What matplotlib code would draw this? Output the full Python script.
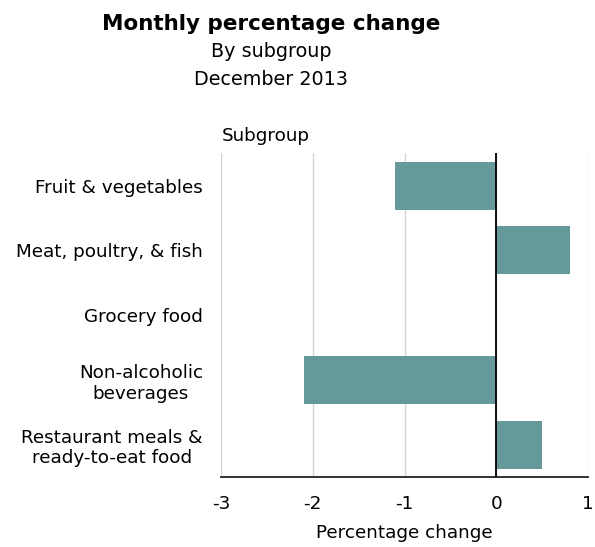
import matplotlib
matplotlib.use("Agg")
import matplotlib.pyplot as plt

plt.rcParams['font.family'] = ['DejaVu Sans']

# data
subgroups = ["Fruit & vegetables", "Meat, poultry, & fish", "Grocery food",
             "Non-alcoholic\nbeverages", "Restaurant meals &\nready-to-eat food"]
change = [-1.1, 0.8, 0.0, -2.1, 0.5]
xticks = [-3, -2, -1, 0, 1]


def main():
    fig = plt.figure(figsize=(5.95, 5.47), dpi=100)
    ax = fig.add_axes([0.3714, 0.128, 0.617, 0.592])

    ypos = list(range(len(subgroups)))
    ax.barh(ypos, change, height=0.74, color="#669999", zorder=3)
    ax.set_ylim(len(subgroups) - 0.5, -0.5)
    ax.set_xlim(-3, 1)

    ax.set_xticks(xticks)
    ax.set_xticklabels([str(t) for t in xticks])
    ax.set_yticks(ypos)
    ax.set_yticklabels(subgroups, multialignment="center")
    ax.tick_params(axis="both", length=0, labelsize=13.2)
    ax.tick_params(axis="x", pad=13)
    ax.tick_params(axis="y", pad=13)

    ax.grid(axis="x", color="#d4d4d4", linewidth=1, zorder=0)
    ax.axvline(0, color="black", linewidth=1.3, zorder=4)
    for s in ["top", "right", "left"]:
        ax.spines[s].set_visible(False)
    ax.spines["bottom"].set_color("#222222")
    ax.spines["bottom"].set_linewidth(1.3)

    ax.set_xlabel("Percentage change", fontsize=13.2, labelpad=8)
    ax.text(0.003, 1.025, "Subgroup", transform=ax.transAxes, fontsize=13.2,
            ha="left", va="bottom")

    fig.text(0.456, 0.956, "Monthly percentage change", fontsize=15.5,
             fontweight="bold", ha="center", va="center")
    fig.text(0.456, 0.905, "By subgroup", fontsize=13.8, ha="center", va="center")
    fig.text(0.456, 0.854, "December 2013", fontsize=13.8, ha="center", va="center")

    fig.savefig("out.png", dpi=100)


if __name__ == "__main__":
    main()
